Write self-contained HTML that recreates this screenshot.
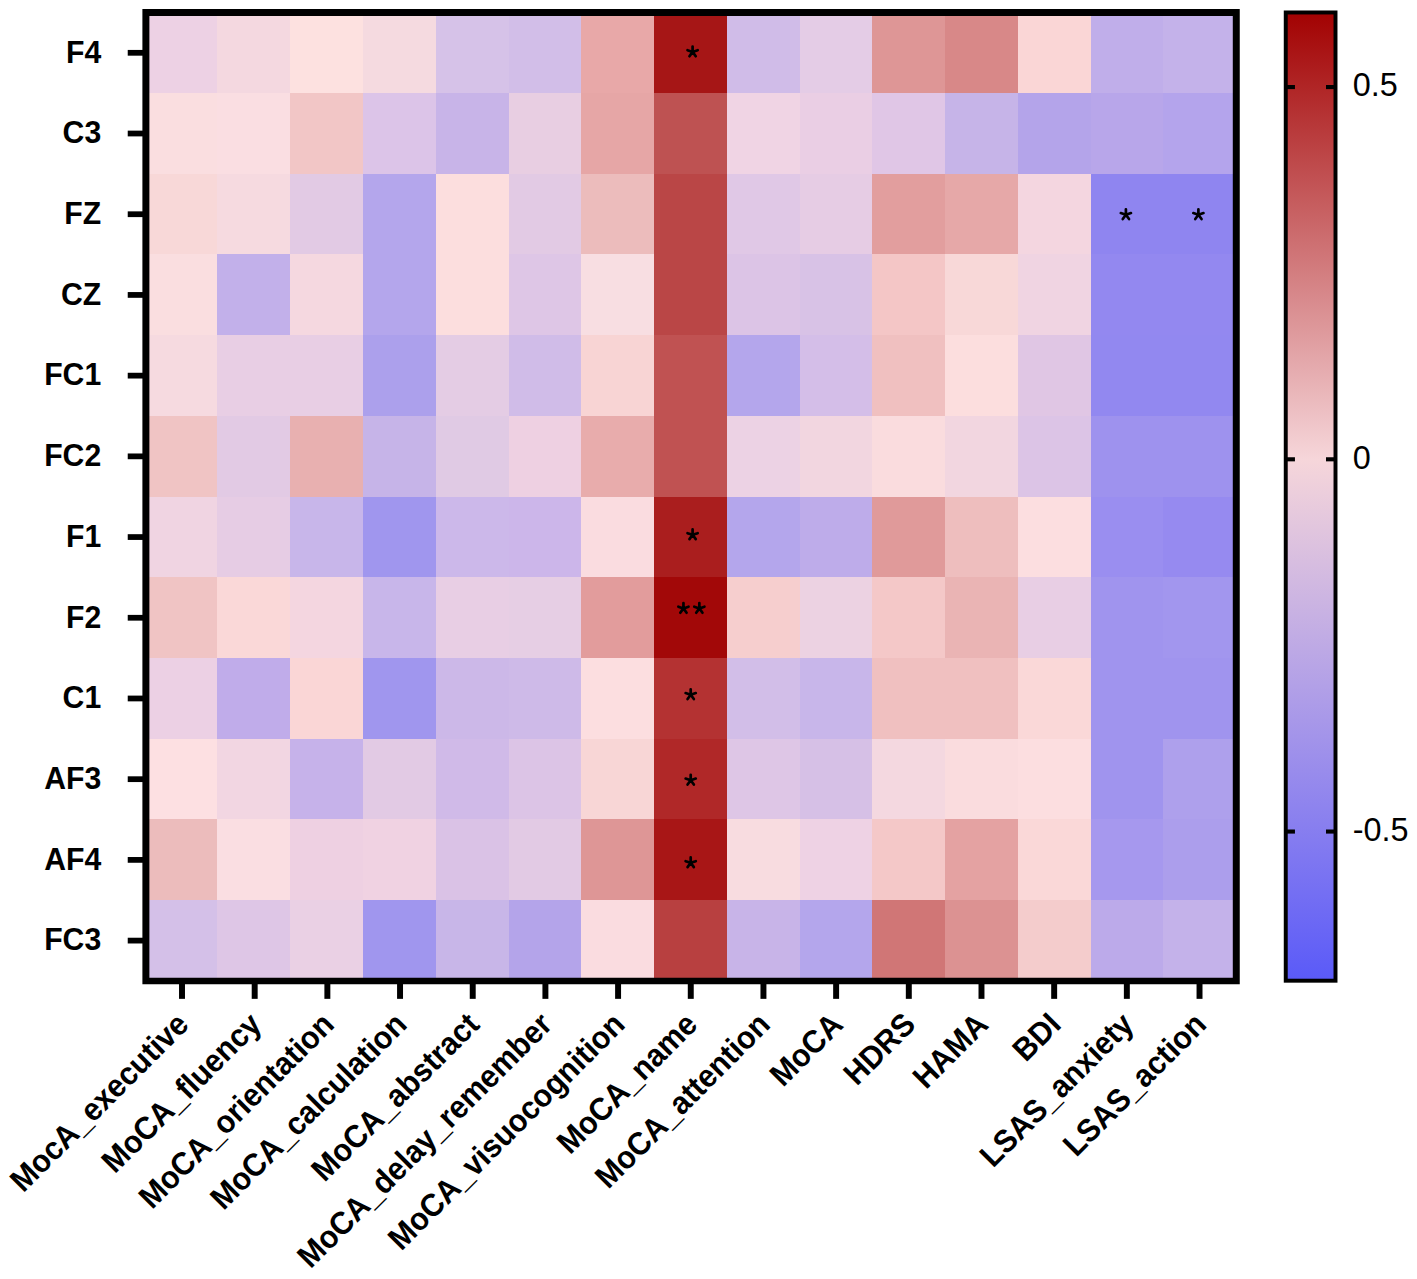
<!DOCTYPE html><html><head><meta charset="utf-8"><style>
html,body{margin:0;padding:0;background:#fff;width:1417px;height:1279px;overflow:hidden}
svg{display:block;font-family:"Liberation Sans",sans-serif}
</style></head><body>
<svg width="1417" height="1279" viewBox="0 0 1417 1279">
<g shape-rendering="crispEdges">
<rect x="144.70" y="12.30" width="73.36" height="81.31" fill="#edd1e4"/>
<rect x="217.46" y="12.30" width="73.36" height="81.31" fill="#f4d8e0"/>
<rect x="290.22" y="12.30" width="73.36" height="81.31" fill="#fde1e0"/>
<rect x="362.98" y="12.30" width="73.36" height="81.31" fill="#f5dae0"/>
<rect x="435.74" y="12.30" width="73.36" height="81.31" fill="#d6c2e8"/>
<rect x="508.50" y="12.30" width="73.36" height="81.31" fill="#d2bee8"/>
<rect x="581.26" y="12.30" width="73.36" height="81.31" fill="#e8a8a8"/>
<rect x="654.02" y="12.30" width="73.36" height="81.31" fill="#a61616"/>
<rect x="726.78" y="12.30" width="73.36" height="81.31" fill="#d0bce8"/>
<rect x="799.54" y="12.30" width="73.36" height="81.31" fill="#e4cce6"/>
<rect x="872.30" y="12.30" width="73.36" height="81.31" fill="#de9696"/>
<rect x="945.06" y="12.30" width="73.36" height="81.31" fill="#d88888"/>
<rect x="1017.82" y="12.30" width="73.36" height="81.31" fill="#fad6d6"/>
<rect x="1090.58" y="12.30" width="73.36" height="81.31" fill="#c0aeea"/>
<rect x="1163.34" y="12.30" width="73.36" height="81.31" fill="#c4b2ea"/>
<rect x="144.70" y="93.01" width="73.36" height="81.31" fill="#fadee0"/>
<rect x="217.46" y="93.01" width="73.36" height="81.31" fill="#fadee2"/>
<rect x="290.22" y="93.01" width="73.36" height="81.31" fill="#f2c6c6"/>
<rect x="362.98" y="93.01" width="73.36" height="81.31" fill="#dcc4e8"/>
<rect x="435.74" y="93.01" width="73.36" height="81.31" fill="#c8b4e8"/>
<rect x="508.50" y="93.01" width="73.36" height="81.31" fill="#e8cee2"/>
<rect x="581.26" y="93.01" width="73.36" height="81.31" fill="#e6a6a6"/>
<rect x="654.02" y="93.01" width="73.36" height="81.31" fill="#be5252"/>
<rect x="726.78" y="93.01" width="73.36" height="81.31" fill="#f0d4e4"/>
<rect x="799.54" y="93.01" width="73.36" height="81.31" fill="#eacee4"/>
<rect x="872.30" y="93.01" width="73.36" height="81.31" fill="#e0c6e6"/>
<rect x="945.06" y="93.01" width="73.36" height="81.31" fill="#c6b4e8"/>
<rect x="1017.82" y="93.01" width="73.36" height="81.31" fill="#b4a4ea"/>
<rect x="1090.58" y="93.01" width="73.36" height="81.31" fill="#b8a6ea"/>
<rect x="1163.34" y="93.01" width="73.36" height="81.31" fill="#b4a4ec"/>
<rect x="144.70" y="173.72" width="73.36" height="81.31" fill="#f8d8d8"/>
<rect x="217.46" y="173.72" width="73.36" height="81.31" fill="#f6dae0"/>
<rect x="290.22" y="173.72" width="73.36" height="81.31" fill="#e2cae4"/>
<rect x="362.98" y="173.72" width="73.36" height="81.31" fill="#b4a6ec"/>
<rect x="435.74" y="173.72" width="73.36" height="81.31" fill="#fcdede"/>
<rect x="508.50" y="173.72" width="73.36" height="81.31" fill="#e2cae4"/>
<rect x="581.26" y="173.72" width="73.36" height="81.31" fill="#ecbcbc"/>
<rect x="654.02" y="173.72" width="73.36" height="81.31" fill="#ba4646"/>
<rect x="726.78" y="173.72" width="73.36" height="81.31" fill="#e0c8e6"/>
<rect x="799.54" y="173.72" width="73.36" height="81.31" fill="#e6cce4"/>
<rect x="872.30" y="173.72" width="73.36" height="81.31" fill="#e29e9e"/>
<rect x="945.06" y="173.72" width="73.36" height="81.31" fill="#e6a8a8"/>
<rect x="1017.82" y="173.72" width="73.36" height="81.31" fill="#f4d6e0"/>
<rect x="1090.58" y="173.72" width="73.36" height="81.31" fill="#8f85f0"/>
<rect x="1163.34" y="173.72" width="73.36" height="81.31" fill="#8f85f0"/>
<rect x="144.70" y="254.43" width="73.36" height="81.31" fill="#fadee0"/>
<rect x="217.46" y="254.43" width="73.36" height="81.31" fill="#c2b0ea"/>
<rect x="290.22" y="254.43" width="73.36" height="81.31" fill="#f5d8e0"/>
<rect x="362.98" y="254.43" width="73.36" height="81.31" fill="#b4a6ec"/>
<rect x="435.74" y="254.43" width="73.36" height="81.31" fill="#fcdede"/>
<rect x="508.50" y="254.43" width="73.36" height="81.31" fill="#dec6e6"/>
<rect x="581.26" y="254.43" width="73.36" height="81.31" fill="#f8dee2"/>
<rect x="654.02" y="254.43" width="73.36" height="81.31" fill="#ba4646"/>
<rect x="726.78" y="254.43" width="73.36" height="81.31" fill="#dcc4e6"/>
<rect x="799.54" y="254.43" width="73.36" height="81.31" fill="#d8c2e6"/>
<rect x="872.30" y="254.43" width="73.36" height="81.31" fill="#f4c6c6"/>
<rect x="945.06" y="254.43" width="73.36" height="81.31" fill="#f8d8d8"/>
<rect x="1017.82" y="254.43" width="73.36" height="81.31" fill="#f0d4e2"/>
<rect x="1090.58" y="254.43" width="73.36" height="81.31" fill="#9388f0"/>
<rect x="1163.34" y="254.43" width="73.36" height="81.31" fill="#9388f0"/>
<rect x="144.70" y="335.13" width="73.36" height="81.31" fill="#f6dae0"/>
<rect x="217.46" y="335.13" width="73.36" height="81.31" fill="#e8cee4"/>
<rect x="290.22" y="335.13" width="73.36" height="81.31" fill="#e8cee4"/>
<rect x="362.98" y="335.13" width="73.36" height="81.31" fill="#aca0ec"/>
<rect x="435.74" y="335.13" width="73.36" height="81.31" fill="#e4cce4"/>
<rect x="508.50" y="335.13" width="73.36" height="81.31" fill="#d0bce8"/>
<rect x="581.26" y="335.13" width="73.36" height="81.31" fill="#f8d4d4"/>
<rect x="654.02" y="335.13" width="73.36" height="81.31" fill="#c05252"/>
<rect x="726.78" y="335.13" width="73.36" height="81.31" fill="#b4a6ec"/>
<rect x="799.54" y="335.13" width="73.36" height="81.31" fill="#d4bee8"/>
<rect x="872.30" y="335.13" width="73.36" height="81.31" fill="#f0c0c0"/>
<rect x="945.06" y="335.13" width="73.36" height="81.31" fill="#fcdede"/>
<rect x="1017.82" y="335.13" width="73.36" height="81.31" fill="#e0c6e4"/>
<rect x="1090.58" y="335.13" width="73.36" height="81.31" fill="#9288f0"/>
<rect x="1163.34" y="335.13" width="73.36" height="81.31" fill="#9288f0"/>
<rect x="144.70" y="415.84" width="73.36" height="81.31" fill="#f0c4c4"/>
<rect x="217.46" y="415.84" width="73.36" height="81.31" fill="#e2cae4"/>
<rect x="290.22" y="415.84" width="73.36" height="81.31" fill="#e8b0b0"/>
<rect x="362.98" y="415.84" width="73.36" height="81.31" fill="#c6b4e8"/>
<rect x="435.74" y="415.84" width="73.36" height="81.31" fill="#e0cae4"/>
<rect x="508.50" y="415.84" width="73.36" height="81.31" fill="#eed0e2"/>
<rect x="581.26" y="415.84" width="73.36" height="81.31" fill="#e8acac"/>
<rect x="654.02" y="415.84" width="73.36" height="81.31" fill="#c05252"/>
<rect x="726.78" y="415.84" width="73.36" height="81.31" fill="#ecd2e4"/>
<rect x="799.54" y="415.84" width="73.36" height="81.31" fill="#f2d6e0"/>
<rect x="872.30" y="415.84" width="73.36" height="81.31" fill="#fadcde"/>
<rect x="945.06" y="415.84" width="73.36" height="81.31" fill="#f2d6e0"/>
<rect x="1017.82" y="415.84" width="73.36" height="81.31" fill="#dcc4e6"/>
<rect x="1090.58" y="415.84" width="73.36" height="81.31" fill="#9e92ee"/>
<rect x="1163.34" y="415.84" width="73.36" height="81.31" fill="#9e92ee"/>
<rect x="144.70" y="496.55" width="73.36" height="81.31" fill="#f0d4e2"/>
<rect x="217.46" y="496.55" width="73.36" height="81.31" fill="#e6cce4"/>
<rect x="290.22" y="496.55" width="73.36" height="81.31" fill="#c8b6ea"/>
<rect x="362.98" y="496.55" width="73.36" height="81.31" fill="#a096ee"/>
<rect x="435.74" y="496.55" width="73.36" height="81.31" fill="#ccb8ea"/>
<rect x="508.50" y="496.55" width="73.36" height="81.31" fill="#ccb6ea"/>
<rect x="581.26" y="496.55" width="73.36" height="81.31" fill="#fadce0"/>
<rect x="654.02" y="496.55" width="73.36" height="81.31" fill="#aa1e1e"/>
<rect x="726.78" y="496.55" width="73.36" height="81.31" fill="#b4a6ec"/>
<rect x="799.54" y="496.55" width="73.36" height="81.31" fill="#beacea"/>
<rect x="872.30" y="496.55" width="73.36" height="81.31" fill="#e09a9a"/>
<rect x="945.06" y="496.55" width="73.36" height="81.31" fill="#eebebe"/>
<rect x="1017.82" y="496.55" width="73.36" height="81.31" fill="#fcdee0"/>
<rect x="1090.58" y="496.55" width="73.36" height="81.31" fill="#9a8ef0"/>
<rect x="1163.34" y="496.55" width="73.36" height="81.31" fill="#968af0"/>
<rect x="144.70" y="577.26" width="73.36" height="81.31" fill="#f0c4c4"/>
<rect x="217.46" y="577.26" width="73.36" height="81.31" fill="#fad8d8"/>
<rect x="290.22" y="577.26" width="73.36" height="81.31" fill="#f4d6e0"/>
<rect x="362.98" y="577.26" width="73.36" height="81.31" fill="#c8b6ea"/>
<rect x="435.74" y="577.26" width="73.36" height="81.31" fill="#e8cee4"/>
<rect x="508.50" y="577.26" width="73.36" height="81.31" fill="#e6cee4"/>
<rect x="581.26" y="577.26" width="73.36" height="81.31" fill="#e29c9c"/>
<rect x="654.02" y="577.26" width="73.36" height="81.31" fill="#a20808"/>
<rect x="726.78" y="577.26" width="73.36" height="81.31" fill="#f6cece"/>
<rect x="799.54" y="577.26" width="73.36" height="81.31" fill="#ecd2e2"/>
<rect x="872.30" y="577.26" width="73.36" height="81.31" fill="#f4c8c8"/>
<rect x="945.06" y="577.26" width="73.36" height="81.31" fill="#eab4b4"/>
<rect x="1017.82" y="577.26" width="73.36" height="81.31" fill="#e8cee4"/>
<rect x="1090.58" y="577.26" width="73.36" height="81.31" fill="#a094ee"/>
<rect x="1163.34" y="577.26" width="73.36" height="81.31" fill="#a296ee"/>
<rect x="144.70" y="657.97" width="73.36" height="81.31" fill="#ecd0e4"/>
<rect x="217.46" y="657.97" width="73.36" height="81.31" fill="#c0acea"/>
<rect x="290.22" y="657.97" width="73.36" height="81.31" fill="#fad6d6"/>
<rect x="362.98" y="657.97" width="73.36" height="81.31" fill="#a096ee"/>
<rect x="435.74" y="657.97" width="73.36" height="81.31" fill="#ccb8e8"/>
<rect x="508.50" y="657.97" width="73.36" height="81.31" fill="#cebae8"/>
<rect x="581.26" y="657.97" width="73.36" height="81.31" fill="#fcdee0"/>
<rect x="654.02" y="657.97" width="73.36" height="81.31" fill="#b43232"/>
<rect x="726.78" y="657.97" width="73.36" height="81.31" fill="#d2bee8"/>
<rect x="799.54" y="657.97" width="73.36" height="81.31" fill="#c8b6ea"/>
<rect x="872.30" y="657.97" width="73.36" height="81.31" fill="#f0c0c0"/>
<rect x="945.06" y="657.97" width="73.36" height="81.31" fill="#f0c0c0"/>
<rect x="1017.82" y="657.97" width="73.36" height="81.31" fill="#fad8d8"/>
<rect x="1090.58" y="657.97" width="73.36" height="81.31" fill="#a094ee"/>
<rect x="1163.34" y="657.97" width="73.36" height="81.31" fill="#a094ee"/>
<rect x="144.70" y="738.67" width="73.36" height="81.31" fill="#fde0e2"/>
<rect x="217.46" y="738.67" width="73.36" height="81.31" fill="#f2d6e2"/>
<rect x="290.22" y="738.67" width="73.36" height="81.31" fill="#c6b2ea"/>
<rect x="362.98" y="738.67" width="73.36" height="81.31" fill="#e2cae4"/>
<rect x="435.74" y="738.67" width="73.36" height="81.31" fill="#d0bae8"/>
<rect x="508.50" y="738.67" width="73.36" height="81.31" fill="#dcc4e6"/>
<rect x="581.26" y="738.67" width="73.36" height="81.31" fill="#f8d6d6"/>
<rect x="654.02" y="738.67" width="73.36" height="81.31" fill="#b02828"/>
<rect x="726.78" y="738.67" width="73.36" height="81.31" fill="#dec6e6"/>
<rect x="799.54" y="738.67" width="73.36" height="81.31" fill="#d6c0e6"/>
<rect x="872.30" y="738.67" width="73.36" height="81.31" fill="#f4d8e0"/>
<rect x="945.06" y="738.67" width="73.36" height="81.31" fill="#fadcde"/>
<rect x="1017.82" y="738.67" width="73.36" height="81.31" fill="#fcdee0"/>
<rect x="1090.58" y="738.67" width="73.36" height="81.31" fill="#a094ee"/>
<rect x="1163.34" y="738.67" width="73.36" height="81.31" fill="#aea0ec"/>
<rect x="144.70" y="819.38" width="73.36" height="81.31" fill="#ecbcbc"/>
<rect x="217.46" y="819.38" width="73.36" height="81.31" fill="#fadee2"/>
<rect x="290.22" y="819.38" width="73.36" height="81.31" fill="#eed0e2"/>
<rect x="362.98" y="819.38" width="73.36" height="81.31" fill="#f0d2e2"/>
<rect x="435.74" y="819.38" width="73.36" height="81.31" fill="#dac2e6"/>
<rect x="508.50" y="819.38" width="73.36" height="81.31" fill="#e2cae4"/>
<rect x="581.26" y="819.38" width="73.36" height="81.31" fill="#de9696"/>
<rect x="654.02" y="819.38" width="73.36" height="81.31" fill="#a81616"/>
<rect x="726.78" y="819.38" width="73.36" height="81.31" fill="#f8dce0"/>
<rect x="799.54" y="819.38" width="73.36" height="81.31" fill="#eed2e4"/>
<rect x="872.30" y="819.38" width="73.36" height="81.31" fill="#f4c8c8"/>
<rect x="945.06" y="819.38" width="73.36" height="81.31" fill="#e4a2a2"/>
<rect x="1017.82" y="819.38" width="73.36" height="81.31" fill="#fad8d8"/>
<rect x="1090.58" y="819.38" width="73.36" height="81.31" fill="#a698ee"/>
<rect x="1163.34" y="819.38" width="73.36" height="81.31" fill="#ac9eec"/>
<rect x="144.70" y="900.09" width="73.36" height="81.31" fill="#d4c0e8"/>
<rect x="217.46" y="900.09" width="73.36" height="81.31" fill="#dec6e6"/>
<rect x="290.22" y="900.09" width="73.36" height="81.31" fill="#ead0e4"/>
<rect x="362.98" y="900.09" width="73.36" height="81.31" fill="#a096ee"/>
<rect x="435.74" y="900.09" width="73.36" height="81.31" fill="#c8b6e8"/>
<rect x="508.50" y="900.09" width="73.36" height="81.31" fill="#b4a4ea"/>
<rect x="581.26" y="900.09" width="73.36" height="81.31" fill="#fadce0"/>
<rect x="654.02" y="900.09" width="73.36" height="81.31" fill="#b84040"/>
<rect x="726.78" y="900.09" width="73.36" height="81.31" fill="#c8b4e8"/>
<rect x="799.54" y="900.09" width="73.36" height="81.31" fill="#b4a6ec"/>
<rect x="872.30" y="900.09" width="73.36" height="81.31" fill="#d07676"/>
<rect x="945.06" y="900.09" width="73.36" height="81.31" fill="#dc9292"/>
<rect x="1017.82" y="900.09" width="73.36" height="81.31" fill="#f4cccc"/>
<rect x="1090.58" y="900.09" width="73.36" height="81.31" fill="#bcaaea"/>
<rect x="1163.34" y="900.09" width="73.36" height="81.31" fill="#c4b2ea"/>
</g>
<path d="M692.60 51.91L692.60 46.56M692.60 51.91L697.69 50.26M692.60 51.91L695.74 56.24M692.60 51.91L689.46 56.24M692.60 51.91L687.51 50.26" stroke="#000" stroke-width="2.70" stroke-linecap="round" fill="none"/>
<path d="M1125.90 214.71L1125.90 209.36M1125.90 214.71L1130.99 213.06M1125.90 214.71L1129.04 219.04M1125.90 214.71L1122.76 219.04M1125.90 214.71L1120.81 213.06" stroke="#000" stroke-width="2.70" stroke-linecap="round" fill="none"/>
<path d="M1198.40 214.71L1198.40 209.36M1198.40 214.71L1203.49 213.06M1198.40 214.71L1201.54 219.04M1198.40 214.71L1195.26 219.04M1198.40 214.71L1193.31 213.06" stroke="#000" stroke-width="2.70" stroke-linecap="round" fill="none"/>
<path d="M692.60 534.81L692.60 529.46M692.60 534.81L697.69 533.16M692.60 534.81L695.74 539.14M692.60 534.81L689.46 539.14M692.60 534.81L687.51 533.16" stroke="#000" stroke-width="2.70" stroke-linecap="round" fill="none"/>
<path d="M683.45 608.41L683.45 603.06M683.45 608.41L688.54 606.76M683.45 608.41L686.59 612.74M683.45 608.41L680.31 612.74M683.45 608.41L678.36 606.76" stroke="#000" stroke-width="2.70" stroke-linecap="round" fill="none"/>
<path d="M699.35 608.41L699.35 603.06M699.35 608.41L704.44 606.76M699.35 608.41L702.49 612.74M699.35 608.41L696.21 612.74M699.35 608.41L694.26 606.76" stroke="#000" stroke-width="2.70" stroke-linecap="round" fill="none"/>
<path d="M690.70 694.71L690.70 689.36M690.70 694.71L695.79 693.06M690.70 694.71L693.84 699.04M690.70 694.71L687.56 699.04M690.70 694.71L685.61 693.06" stroke="#000" stroke-width="2.70" stroke-linecap="round" fill="none"/>
<path d="M690.70 780.21L690.70 774.86M690.70 780.21L695.79 778.56M690.70 780.21L693.84 784.54M690.70 780.21L687.56 784.54M690.70 780.21L685.61 778.56" stroke="#000" stroke-width="2.70" stroke-linecap="round" fill="none"/>
<path d="M690.70 862.81L690.70 857.46M690.70 862.81L695.79 861.16M690.70 862.81L693.84 867.14M690.70 862.81L687.56 867.14M690.70 862.81L685.61 861.16" stroke="#000" stroke-width="2.70" stroke-linecap="round" fill="none"/>
<path fill="#000" fill-rule="evenodd" d="M142.40 8.94H1239.75V984.28H142.40ZM149.38 15.97V977.74H1232.80V15.97Z"/>
<rect x="127.73" y="49.93" width="16" height="5.75" fill="#000"/>
<rect x="127.73" y="130.64" width="16" height="5.75" fill="#000"/>
<rect x="127.73" y="211.35" width="16" height="5.75" fill="#000"/>
<rect x="127.73" y="292.06" width="16" height="5.75" fill="#000"/>
<rect x="127.73" y="372.77" width="16" height="5.75" fill="#000"/>
<rect x="127.73" y="453.48" width="16" height="5.75" fill="#000"/>
<rect x="127.73" y="534.18" width="16" height="5.75" fill="#000"/>
<rect x="127.73" y="614.89" width="16" height="5.75" fill="#000"/>
<rect x="127.73" y="695.60" width="16" height="5.75" fill="#000"/>
<rect x="127.73" y="776.31" width="16" height="5.75" fill="#000"/>
<rect x="127.73" y="857.02" width="16" height="5.75" fill="#000"/>
<rect x="127.73" y="937.73" width="16" height="5.75" fill="#000"/>
<rect x="179.03" y="980" width="5.95" height="18.85" fill="#000"/>
<rect x="251.71" y="980" width="5.95" height="18.85" fill="#000"/>
<rect x="324.39" y="980" width="5.95" height="18.85" fill="#000"/>
<rect x="397.07" y="980" width="5.95" height="18.85" fill="#000"/>
<rect x="469.75" y="980" width="5.95" height="18.85" fill="#000"/>
<rect x="542.43" y="980" width="5.95" height="18.85" fill="#000"/>
<rect x="615.11" y="980" width="5.95" height="18.85" fill="#000"/>
<rect x="687.79" y="980" width="5.95" height="18.85" fill="#000"/>
<rect x="760.47" y="980" width="5.95" height="18.85" fill="#000"/>
<rect x="833.15" y="980" width="5.95" height="18.85" fill="#000"/>
<rect x="905.83" y="980" width="5.95" height="18.85" fill="#000"/>
<rect x="978.51" y="980" width="5.95" height="18.85" fill="#000"/>
<rect x="1051.19" y="980" width="5.95" height="18.85" fill="#000"/>
<rect x="1123.87" y="980" width="5.95" height="18.85" fill="#000"/>
<rect x="1196.55" y="980" width="5.95" height="18.85" fill="#000"/>
<text font-size="30.20" font-weight="bold" text-anchor="end" transform="translate(101.20 62.65) scale(1 1.060)">F4</text>
<text font-size="30.20" font-weight="bold" text-anchor="end" transform="translate(101.20 143.36) scale(1 1.060)">C3</text>
<text font-size="30.20" font-weight="bold" text-anchor="end" transform="translate(101.20 224.07) scale(1 1.060)">FZ</text>
<text font-size="30.20" font-weight="bold" text-anchor="end" transform="translate(101.20 304.78) scale(1 1.060)">CZ</text>
<text font-size="30.20" font-weight="bold" text-anchor="end" transform="translate(101.20 385.49) scale(1 1.060)">FC1</text>
<text font-size="30.20" font-weight="bold" text-anchor="end" transform="translate(101.20 466.20) scale(1 1.060)">FC2</text>
<text font-size="30.20" font-weight="bold" text-anchor="end" transform="translate(101.20 546.90) scale(1 1.060)">F1</text>
<text font-size="30.20" font-weight="bold" text-anchor="end" transform="translate(101.20 627.61) scale(1 1.060)">F2</text>
<text font-size="30.20" font-weight="bold" text-anchor="end" transform="translate(101.20 708.32) scale(1 1.060)">C1</text>
<text font-size="30.20" font-weight="bold" text-anchor="end" transform="translate(101.20 789.03) scale(1 1.060)">AF3</text>
<text font-size="30.20" font-weight="bold" text-anchor="end" transform="translate(101.20 869.74) scale(1 1.060)">AF4</text>
<text font-size="30.20" font-weight="bold" text-anchor="end" transform="translate(101.20 950.45) scale(1 1.060)">FC3</text>
<text font-size="30.20" font-weight="bold" text-anchor="end" transform="translate(190.45 1026.30) rotate(-45) scale(1 1.060)">MocA_executive</text>
<text font-size="30.20" font-weight="bold" text-anchor="end" transform="translate(263.13 1026.30) rotate(-45) scale(1 1.060)">MoCA_fluency</text>
<text font-size="30.20" font-weight="bold" text-anchor="end" transform="translate(335.81 1026.30) rotate(-45) scale(1 1.060)">MoCA_orientation</text>
<text font-size="30.20" font-weight="bold" text-anchor="end" transform="translate(408.49 1026.30) rotate(-45) scale(1 1.060)">MoCA_calculation</text>
<text font-size="30.20" font-weight="bold" text-anchor="end" transform="translate(481.17 1026.30) rotate(-45) scale(1 1.060)">MoCA_abstract</text>
<text font-size="30.20" font-weight="bold" text-anchor="end" transform="translate(553.85 1026.30) rotate(-45) scale(1 1.060)">MoCA_delay_remember</text>
<text font-size="30.20" font-weight="bold" text-anchor="end" transform="translate(626.53 1026.30) rotate(-45) scale(1 1.060)">MoCA_visuocognition</text>
<text font-size="30.20" font-weight="bold" text-anchor="end" transform="translate(699.21 1026.30) rotate(-45) scale(1 1.060)">MoCA_name</text>
<text font-size="30.20" font-weight="bold" text-anchor="end" transform="translate(771.89 1026.30) rotate(-45) scale(1 1.060)">MoCA_attention</text>
<text font-size="30.20" font-weight="bold" text-anchor="end" transform="translate(844.57 1026.30) rotate(-45) scale(1 1.060)">MoCA</text>
<text font-size="30.20" font-weight="bold" text-anchor="end" transform="translate(917.25 1026.30) rotate(-45) scale(1 1.060)">HDRS</text>
<text font-size="30.20" font-weight="bold" text-anchor="end" transform="translate(989.93 1026.30) rotate(-45) scale(1 1.060)">HAMA</text>
<text font-size="30.20" font-weight="bold" text-anchor="end" transform="translate(1062.61 1026.30) rotate(-45) scale(1 1.060)">BDI</text>
<text font-size="30.20" font-weight="bold" text-anchor="end" transform="translate(1135.29 1026.30) rotate(-45) scale(1 1.060)">LSAS_anxiety</text>
<text font-size="30.20" font-weight="bold" text-anchor="end" transform="translate(1207.97 1026.30) rotate(-45) scale(1 1.060)">LSAS_action</text>
<defs><linearGradient id="cb" x1="0" y1="0" x2="0" y2="1">
<stop offset="0.0000" stop-color="#a20202"/>
<stop offset="0.4615" stop-color="#f6d6da"/>
<stop offset="1.0000" stop-color="#5a5af8"/>
</linearGradient></defs>
<rect x="1285.75" y="12.47" width="49.75" height="968.23" fill="url(#cb)" stroke="#000" stroke-width="3.95"/>
<rect x="1285.75" y="85.00" width="9.2" height="4.1" fill="#000"/>
<rect x="1326.0" y="85.00" width="9.5" height="4.1" fill="#000"/>
<text font-size="32.40" transform="translate(1352.80 96.05) scale(1 1.020)">0.5</text>
<rect x="1285.75" y="457.25" width="9.2" height="4.1" fill="#000"/>
<rect x="1326.0" y="457.25" width="9.5" height="4.1" fill="#000"/>
<text font-size="32.40" transform="translate(1352.80 469.40) scale(1 1.020)">0</text>
<rect x="1285.75" y="829.50" width="9.2" height="4.1" fill="#000"/>
<rect x="1326.0" y="829.50" width="9.5" height="4.1" fill="#000"/>
<text font-size="32.40" transform="translate(1352.80 840.55) scale(1 1.020)">-0.5</text>
</svg></body></html>
